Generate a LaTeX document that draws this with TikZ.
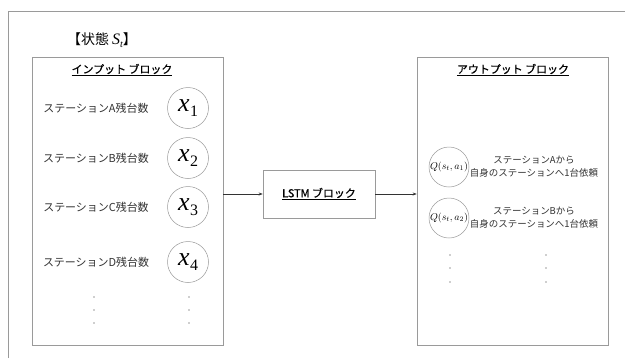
\documentclass[tikz,border=0pt]{standalone}
\usepackage{fontspec}
\newfontfamily\jp{Noto Sans CJK JP}
\newfontfamily\jpm[FakeBold=0.6]{Noto Sans CJK JP}
\newfontfamily\lser{Liberation Serif}
\usetikzlibrary{arrows.meta}
\definecolor{frame}{HTML}{9A9A9A}
\definecolor{txt}{HTML}{333333}
\newcommand{\xvar}[1]{{\lser\itshape x}\kern0.5pt\raisebox{-0.22em}{\lser\fontsize{16}{16}\selectfont #1}}
\begin{document}
\begin{tikzpicture}[x=1bp,y=-1bp,
  blk/.style={draw=frame,line width=0.6bp,rectangle,inner sep=0pt},
  lbl/.style={font=\jp\fontsize{11}{13}\selectfont,text=txt,inner sep=0pt},
  hdr/.style={font=\jpm\fontsize{11}{13}\selectfont,text=black,inner sep=0pt},
  xcirc/.style={draw=frame,line width=0.5bp,circle,minimum size=41bp,inner sep=0pt,font=\fontsize{26}{28}\selectfont},
  qcirc/.style={draw=frame,line width=0.5bp,circle,minimum size=40bp,inner sep=0pt,font=\fontsize{10}{12}\selectfont},
  dotn/.style={circle,fill=txt,inner sep=0pt,minimum size=1.3bp},
  arr/.style={-{Stealth[length=4bp,width=3bp]},line width=0.6bp,draw=txt}]
\useasboundingbox (0,0) rectangle (625,358);
\fill[white] (0,0) rectangle (625,358);
% outer frame
\draw[frame,line width=0.6bp] (8,358) -- (8,11) -- (625,11);
% title
\node[inner sep=0pt,font=\jp\fontsize{14}{16}\selectfont,text=black] (title) at (102,40) {【状態 {\lser\itshape\fontsize{16}{16}\selectfont S}\raisebox{-0.2em}{\lser\itshape\fontsize{10}{10}\selectfont t}】};
% input block
\node[blk,minimum width=191bp,minimum height=288bp] (inblk) at (127.5,201) {};
\node[hdr] (inhdr) at (122,70) {\underline{インプット ブロック}};
\node[lbl] (la) at (96,108) {ステーションA残台数};
\node[lbl] (lb) at (96,158) {ステーションB残台数};
\node[lbl] (lc) at (96,207) {ステーションC残台数};
\node[lbl] (ld) at (96,262) {ステーションD残台数};
\node[xcirc] (x1) at (188,108) {\xvar{1}};
\node[xcirc] (x2) at (188,158) {\xvar{2}};
\node[xcirc] (x3) at (188,207) {\xvar{3}};
\node[xcirc] (x4) at (188,262) {\xvar{4}};
\node[dotn] (d1) at (94,297) {};
\node[dotn] (d2) at (94,310) {};
\node[dotn] (d3) at (94,323) {};
\node[dotn] (d4) at (189,297) {};
\node[dotn] (d5) at (189,310) {};
\node[dotn] (d6) at (189,323) {};
% LSTM block
\node[blk,minimum width=112bp,minimum height=48bp,font=\jpm\fontsize{11}{13}\selectfont,text=black] (lstm) at (319,194) {\underline{LSTM ブロック}};
% output block
\node[blk,minimum width=191bp,minimum height=288bp] (outblk) at (512.5,201) {};
\node[hdr] (outhdr) at (513,70) {\underline{アウトプット ブロック}};
\node[qcirc] (q1) at (449,167) {$Q(s_t,a_1)$};
\node[qcirc] (q2) at (449,218) {$Q(s_t,a_2)$};
\node[lbl,font=\jp\fontsize{9.5}{11}\selectfont,align=center] (qa) at (534,167) {ステーションAから\\[2pt]自身のステーションへ1台依頼};
\node[lbl,font=\jp\fontsize{9.5}{11}\selectfont,align=center] (qb) at (534,218) {ステーションBから\\[2pt]自身のステーションへ1台依頼};
\node[dotn] (e1) at (450,255) {};
\node[dotn] (e2) at (450,268) {};
\node[dotn] (e3) at (450,282) {};
\node[dotn] (e4) at (546,255) {};
\node[dotn] (e5) at (546,268) {};
\node[dotn] (e6) at (546,282) {};
% connectors
\draw[arr] (inblk.east |- lstm.west) -- (lstm.west);
\draw[arr] (lstm.east) -- (outblk.west |- lstm.east);
\end{tikzpicture}
\end{document}
